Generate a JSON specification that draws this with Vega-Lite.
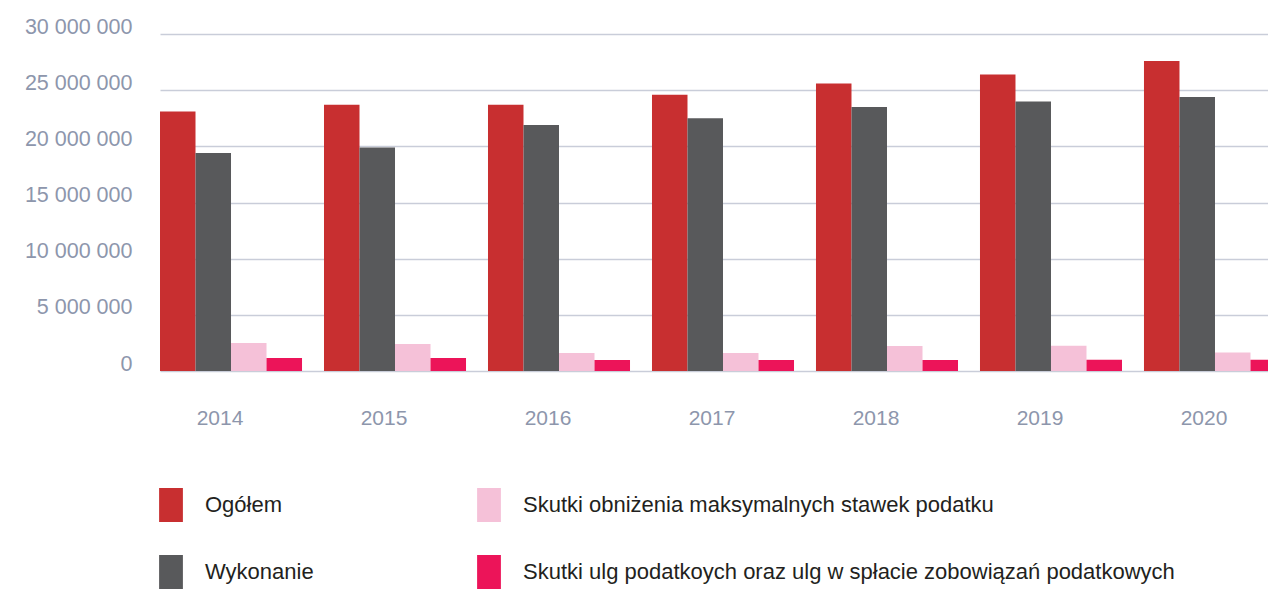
{
  "$schema": "https://vega.github.io/schema/vega-lite/v6.json",
  "autosize": {"type": "none"},
  "padding": {"left": 160, "top": 34, "right": -18, "bottom": 220},
  "width": 1126,
  "height": 337,
  "background": "white",
  "config": {
    "view": {"stroke": null},
    "locale": {"number": {"decimal": ",", "thousands": " ", "grouping": [3], "currency": ["", ""]}},
    "font": "Liberation Sans"
  },
  "data": {
    "values": [
      {"rok": "2014", "seria": "Ogółem", "wartosc": 23100000},
      {"rok": "2014", "seria": "Wykonanie", "wartosc": 19400000},
      {"rok": "2014", "seria": "Skutki obniżenia maksymalnych stawek podatku", "wartosc": 2500000},
      {"rok": "2014", "seria": "Skutki ulg podatkoych oraz ulg w spłacie zobowiązań podatkowych", "wartosc": 1160000},
      {"rok": "2015", "seria": "Ogółem", "wartosc": 23700000},
      {"rok": "2015", "seria": "Wykonanie", "wartosc": 19900000},
      {"rok": "2015", "seria": "Skutki obniżenia maksymalnych stawek podatku", "wartosc": 2400000},
      {"rok": "2015", "seria": "Skutki ulg podatkoych oraz ulg w spłacie zobowiązań podatkowych", "wartosc": 1160000},
      {"rok": "2016", "seria": "Ogółem", "wartosc": 23700000},
      {"rok": "2016", "seria": "Wykonanie", "wartosc": 21900000},
      {"rok": "2016", "seria": "Skutki obniżenia maksymalnych stawek podatku", "wartosc": 1600000},
      {"rok": "2016", "seria": "Skutki ulg podatkoych oraz ulg w spłacie zobowiązań podatkowych", "wartosc": 980000},
      {"rok": "2017", "seria": "Ogółem", "wartosc": 24600000},
      {"rok": "2017", "seria": "Wykonanie", "wartosc": 22500000},
      {"rok": "2017", "seria": "Skutki obniżenia maksymalnych stawek podatku", "wartosc": 1600000},
      {"rok": "2017", "seria": "Skutki ulg podatkoych oraz ulg w spłacie zobowiązań podatkowych", "wartosc": 980000},
      {"rok": "2018", "seria": "Ogółem", "wartosc": 25600000},
      {"rok": "2018", "seria": "Wykonanie", "wartosc": 23500000},
      {"rok": "2018", "seria": "Skutki obniżenia maksymalnych stawek podatku", "wartosc": 2220000},
      {"rok": "2018", "seria": "Skutki ulg podatkoych oraz ulg w spłacie zobowiązań podatkowych", "wartosc": 980000},
      {"rok": "2019", "seria": "Ogółem", "wartosc": 26400000},
      {"rok": "2019", "seria": "Wykonanie", "wartosc": 24000000},
      {"rok": "2019", "seria": "Skutki obniżenia maksymalnych stawek podatku", "wartosc": 2250000},
      {"rok": "2019", "seria": "Skutki ulg podatkoych oraz ulg w spłacie zobowiązań podatkowych", "wartosc": 1000000},
      {"rok": "2020", "seria": "Ogółem", "wartosc": 27600000},
      {"rok": "2020", "seria": "Wykonanie", "wartosc": 24400000},
      {"rok": "2020", "seria": "Skutki obniżenia maksymalnych stawek podatku", "wartosc": 1640000},
      {"rok": "2020", "seria": "Skutki ulg podatkoych oraz ulg w spłacie zobowiązań podatkowych", "wartosc": 1000000}
    ]
  },
  "mark": {"type": "bar"},
  "encoding": {
    "x": {
      "field": "rok", "type": "nominal",
      "scale": {"paddingInner": 0.134, "paddingOuter": 0},
      "axis": {
        "title": null, "labelAngle": 0, "domain": false, "ticks": false,
        "labelFontSize": 21, "labelColor": "#8d96ac", "labelPadding": 36, "labelOffset": -11
      }
    },
    "xOffset": {
      "field": "seria", "type": "nominal",
      "sort": ["Ogółem", "Wykonanie", "Skutki obniżenia maksymalnych stawek podatku", "Skutki ulg podatkoych oraz ulg w spłacie zobowiązań podatkowych"],
      "scale": {"paddingInner": 0, "paddingOuter": 0}
    },
    "y": {
      "field": "wartosc", "type": "quantitative",
      "scale": {"domain": [0, 30000000], "nice": false},
      "axis": {
        "title": null, "domain": false, "ticks": false, "values": [0, 5000000, 10000000, 15000000, 20000000, 25000000, 30000000],
        "format": ",d", "labelFontSize": 21.5, "labelColor": "#8d96ac", "labelPadding": 28, "labelOffset": -7, "labelOverlap": false,
        "gridColor": "#c9cdd9", "gridWidth": 1.5
      }
    },
    "color": {
      "field": "seria", "type": "nominal",
      "scale": {
        "domain": ["Ogółem", "Wykonanie", "Skutki obniżenia maksymalnych stawek podatku", "Skutki ulg podatkoych oraz ulg w spłacie zobowiązań podatkowych"],
        "range": ["#c82f30", "#58595b", "#f5c1d8", "#ec1459"]
      },
      "legend": {
        "title": null, "orient": "none", "legendX": -6, "legendY": 454, "columns": 2,
        "symbolType": "M-0.7,-1H0.7V1H-0.7Z", "symbolSize": 1156, "symbolStrokeWidth": 0,
        "labelFontSize": 22, "labelColor": "#231f20", "labelOffset": 17, "labelLimit": 800,
        "columnPadding": 158, "rowPadding": 33
      }
    }
  }
}
